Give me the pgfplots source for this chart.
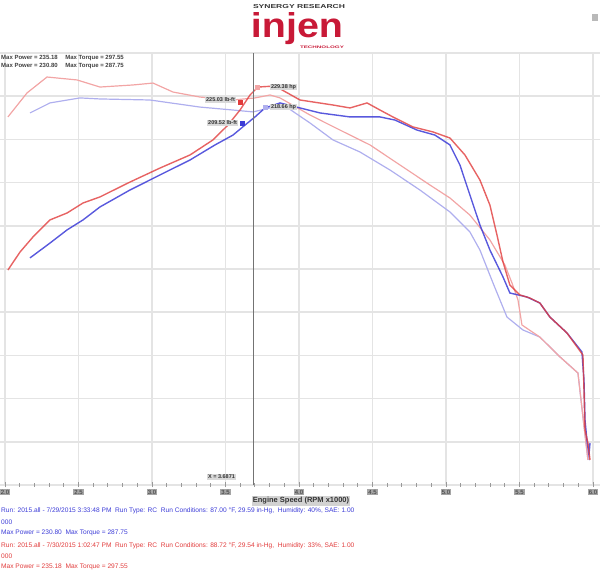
\documentclass[border=0pt]{standalone}
\usepackage{fontspec}
\setmainfont{Liberation Sans}
\usepackage{graphicx}
\usepackage{pgfplots}
\pgfplotsset{compat=1.18}
\definecolor{runred}{RGB}{225,60,60}
\definecolor{runblue}{RGB}{60,60,215}
\definecolor{lightred}{RGB}{242,165,165}
\definecolor{lightblue}{RGB}{175,175,238}
\definecolor{logored}{RGB}{200,25,55}
\definecolor{gridgray}{RGB}{228,228,228}
\definecolor{framegray}{RGB}{178,178,178}
\definecolor{labelgray}{RGB}{165,165,165}
\tikzset{lbl/.style={fill=gray!30, text=black!80, font=\fontsize{5.5}{5.5}\selectfont\bfseries, inner sep=0.8pt}}

\begin{document}
\begin{tikzpicture}
\useasboundingbox (0,0) rectangle (600pt,572pt);
\clip (0,0) rectangle (600pt,572pt);
\begin{axis}[
  at={(0pt,87pt)}, anchor=south west,
  scale only axis, width=600pt, height=432pt,
  xmin=1.966, xmax=6.048, ymin=0, ymax=250,
  xtick={2,2.5,...,6}, ytick={0,25,...,250},
  xticklabels={2.0,2.5,3.0,3.5,4.0,4.5,5.0,5.5,6.0},
  yticklabels={},
  grid=major, major grid style={draw=gridgray, line width=1.6pt},
  x axis line style={draw=framegray, line width=4pt},
  y axis line style={draw=none},
  xtick pos=left, ytick style={draw=none},
  minor x tick num=4, tick align=center,
  major tick length=5pt, minor tick length=4pt,
  tick style={draw=black!40, line width=0.8pt},
  xticklabel style={font=\fontsize{6}{6}\selectfont, fill=labelgray, text=black!80, inner sep=1.2pt, yshift=-1pt},
]
% torque runs (light)
\addplot[lightblue, line width=1.2pt] coordinates {
(2.170,215.3) (2.306,221.1) (2.510,224.0) (2.646,223.4) (2.986,222.8) (3.327,218.7)
(3.551,217.0) (3.687,215.9) (3.803,218.2) (3.905,219.3) (4.075,209.5) (4.231,199.7)
(4.415,192.7) (4.619,182.3) (4.823,170.7) (5.027,158.0) (5.163,146.4) (5.231,136.0)
(5.320,116.9) (5.415,97.2) (5.524,89.7) (5.639,85.6) (5.776,74.1) (5.898,64.8)
(5.932,39.4) (5.966,14.5)};
\addplot[lightred, line width=1.2pt] coordinates {
(2.020,213.0) (2.150,226.9) (2.286,236.1) (2.490,234.4) (2.646,230.3) (2.871,231.5)
(3.007,232.6) (3.143,227.4) (3.327,224.5) (3.551,222.8) (3.701,224.0) (3.803,225.7)
(3.871,224.0) (4.075,214.1) (4.279,205.4) (4.483,196.8) (4.687,185.2) (4.891,173.6)
(5.027,166.1) (5.163,156.2) (5.299,141.8) (5.401,127.3) (5.449,116.9) (5.490,107.1)
(5.517,92.6) (5.639,85.6) (5.776,74.1) (5.898,64.8) (5.932,39.4) (5.966,14.5)};
% power runs
\addplot[runblue, opacity=0.85, line width=1.4pt] coordinates {
(2.170,131.4) (2.306,140.0) (2.422,147.6) (2.531,153.4) (2.646,160.9) (2.850,170.7)
(3.054,179.4) (3.259,188.1) (3.429,196.8) (3.551,202.5) (3.633,208.3) (3.701,213.0)
(3.769,218.2) (3.871,221.1) (4.007,218.2) (4.143,215.3) (4.347,213.0) (4.551,213.0)
(4.653,211.2) (4.803,205.4) (4.925,202.5) (5.027,196.8) (5.095,185.2) (5.163,167.8)
(5.231,150.5) (5.299,136.0) (5.388,120.4) (5.435,111.1) (5.551,108.8) (5.639,105.3)
(5.707,97.2) (5.823,88.0) (5.925,77.0) (5.939,60.8) (5.946,37.6) (5.959,26.0)
(5.973,17.4) (5.980,24.3)};
\addplot[runred, opacity=0.8, line width=1.4pt] coordinates {
(2.020,124.4) (2.102,134.8) (2.190,143.5) (2.306,153.4) (2.422,157.4) (2.531,163.2)
(2.646,166.7) (2.850,175.3) (3.054,183.4) (3.259,191.0) (3.415,199.7) (3.517,208.3)
(3.599,217.0) (3.667,225.7) (3.721,230.3) (3.837,230.9) (4.007,222.8) (4.231,219.9)
(4.347,218.2) (4.463,221.1) (4.551,217.0) (4.639,213.0) (4.776,207.2) (4.912,204.3)
(5.027,200.8) (5.129,191.0) (5.231,176.5) (5.299,162.0) (5.347,144.7) (5.388,129.1)
(5.435,115.7) (5.503,110.0) (5.571,108.2) (5.639,105.3) (5.707,97.2) (5.823,88.0)
(5.932,75.2) (5.939,55.0) (5.946,31.8) (5.966,24.3) (5.980,14.5)};
% cursor
\addplot[black!55, line width=0.6pt] coordinates {(3.687,0) (3.687,250)};
\addplot[only marks, mark=square*, mark size=2pt, runred] coordinates {(3.599,221.7)};
\addplot[only marks, mark=square*, mark size=2pt, runblue] coordinates {(3.612,209.5)};
\addplot[only marks, mark=square*, mark size=2pt, lightred] coordinates {(3.714,230.3)};
\addplot[only marks, mark=square*, mark size=2pt, lightblue] coordinates {(3.769,218.7)};
\node[lbl, anchor=east] at (axis cs:3.571,222.8) {225.03 lb-ft};
\node[lbl, anchor=east] at (axis cs:3.585,209.5) {209.52 lb-ft};
\node[lbl, anchor=west] at (axis cs:3.803,230.3) {229.38 hp};
\node[lbl, anchor=west] at (axis cs:3.803,218.7) {218.66 hp};
\node[lbl, anchor=east] at (axis cs:3.571,4.6) {X = 3.6871};
\end{axis}
% info box
\node[anchor=west, font=\fontsize{6}{8}\selectfont\bfseries, text=black!75, align=left, inner sep=0pt] at (1pt,510pt)
  {Max Power = 235.18 \quad Max Torque = 297.55\\ Max Power = 230.80 \quad Max Torque = 287.75};
% axis title
\node[fill=gray!35, text=black!80, font=\fontsize{7.5}{7.5}\selectfont\bfseries, inner sep=1pt] at (301pt,71pt) {Engine Speed (RPM x1000)};
% logo
\node[text=black!80, font=\bfseries, inner sep=0pt] at (299pt,565pt) {\resizebox{92pt}{4pt}{SYNERGY RESEARCH}};
\node[text=logored, font=\bfseries, inner sep=0pt, anchor=north] at (297pt,560pt) {\raisebox{0pt}[\height][0pt]{\resizebox{92pt}{25pt}{injen}}};
\node[text=logored, font=\bfseries, inner sep=0pt] at (322pt,525pt) {\resizebox{44pt}{2.5pt}{TECHNOLOGY}};
\fill[gray!55] (592pt,551pt) rectangle (598pt,558pt);
% run legend
\begin{scope}[every node/.style={anchor=west, inner sep=0pt, font=\fontsize{6.6}{6.6}\selectfont}]
\node[text=runblue] at (1pt,61pt) {Run: 2015.all - 7/29/2015 3:33:48 PM \ Run Type: RC \ Run Conditions: 87.00 °F, 29.59 in-Hg, \ Humidity: 40\%, SAE: 1.00};
\node[text=runblue] at (1pt,50pt) {000};
\node[text=runblue] at (1pt,39pt) {Max Power = 230.80 \ Max Torque = 287.75};
\node[text=runred] at (1pt,26pt) {Run: 2015.all - 7/30/2015 1:02:47 PM \ Run Type: RC \ Run Conditions: 88.72 °F, 29.54 in-Hg, \ Humidity: 33\%, SAE: 1.00};
\node[text=runred] at (1pt,16pt) {000};
\node[text=runred] at (1pt,5pt) {Max Power = 235.18 \ Max Torque = 297.55};
\end{scope}
\end{tikzpicture}
\end{document}
